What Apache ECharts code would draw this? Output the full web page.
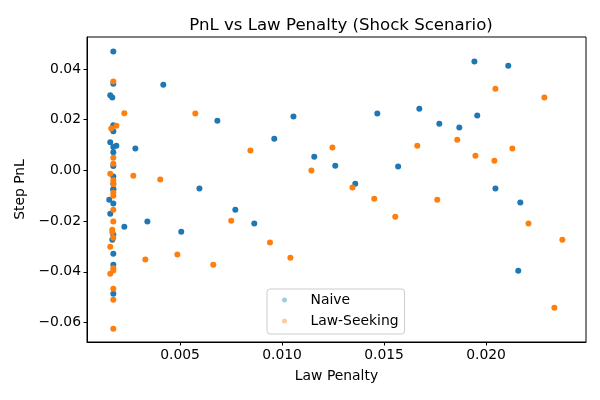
<!DOCTYPE html>
<html><head><meta charset="utf-8">
<script src="https://cdn.jsdelivr.net/npm/echarts@6/dist/echarts.min.js"></script>
<style>html,body{margin:0;padding:0;background:#fff}#c{width:600px;height:400px}</style>
</head><body><div id="c"></div>
<script>
const seriesNames = ['Naive', 'Law-Seeking'];
const naiveX = [0.00173,0.00173,0.00158,0.00168,0.00173,0.00173,0.00158,0.00188,0.00173,0.00173,0.00173,0.00173,0.00173,0.00173,0.00173,0.00153,0.00173,0.00158,0.00173,0.00168,0.00173,0.00173,0.00173,
  0.00418,0.00281,0.00227,0.00340,0.00506,0.00683,0.01056,0.01467,0.00962,0.01158,0.01261,0.01569,0.00595,0.01359,0.00771,0.00864,0.01943,0.02109,0.01673,0.01957,0.01771,0.01869,0.02046,0.02168,0.02158];
const naiveY = [0.0469,0.0342,0.0296,0.0287,0.0178,0.0154,0.0111,0.0097,0.0092,0.0071,0.0017,-0.0024,-0.0053,-0.0074,-0.0076,-0.0116,-0.0131,-0.0171,-0.0254,-0.0274,-0.0329,-0.0372,-0.0487,
  0.0338,0.0086,-0.0222,-0.0202,-0.0242,0.0196,0.0212,0.0224,0.0125,0.0054,0.0018,0.0015,-0.0072,-0.0053,-0.0155,-0.0210,0.0429,0.0413,0.0243,0.0216,0.0184,0.0169,-0.0072,-0.0127,-0.0396];
const lawX = [0.00173,0.00188,0.00163,0.00173,0.00173,0.00158,0.00173,0.00173,0.00173,0.00173,0.00173,0.00173,0.00168,0.00168,0.00173,0.00158,0.00173,0.00173,0.00158,0.00173,0.00173,0.00173,
  0.00227,0.00271,0.00403,0.00330,0.00487,0.00575,0.00845,0.01247,0.01144,0.01345,0.01452,0.01555,0.00751,0.00941,0.01041,0.00663,0.02046,0.02286,0.01859,0.01663,0.02129,0.01948,0.02041,0.01761,0.02208,0.02374,0.02335];
const lawY = [0.0350,0.0176,0.0165,0.0050,0.0026,-0.0013,-0.0039,-0.0055,-0.0088,-0.0100,-0.0155,-0.0202,-0.0234,-0.0243,-0.0266,-0.0301,-0.0386,-0.0395,-0.0408,-0.0467,-0.0510,-0.0625,
  0.0225,-0.0021,-0.0036,-0.0352,-0.0332,0.0224,0.0078,0.0090,-0.0001,-0.0068,-0.0112,-0.0183,-0.0199,-0.0285,-0.0345,-0.0372,0.0322,0.0287,0.0121,0.0097,0.0086,0.0058,0.0038,-0.0116,-0.0210,-0.0274,-0.0542];
const xTicks = [0.005, 0.010, 0.015, 0.020];
const yTicks = [-0.06, -0.04, -0.02, 0.00, 0.02, 0.04];

const zip = (a, b) => a.map((v, i) => [v, b[i]]);
const font = 'DejaVu Sans';
const chart = echarts.init(document.getElementById('c'), null, {renderer: 'canvas'});
chart.setOption({
  animation: false,
  backgroundColor: '#fff',
  title: {text: 'PnL vs Law Penalty (Shock Scenario)', left: 336, top: 12, textAlign: 'center',
    textStyle: {fontFamily: font, fontSize: 16.6, fontWeight: 'normal', color: '#000'}},
  grid: {left: 87, right: 14, top: 37, bottom: 58, show: true, borderColor: '#000', borderWidth: 1, backgroundColor: 'transparent'},
  xAxis: {type: 'value', min: 0.00044, max: 0.0249,
    name: 'Law Penalty', nameLocation: 'middle', nameGap: 27,
    nameTextStyle: {fontFamily: font, fontSize: 13.9, color: '#000'},
    axisLine: {show: true, onZero: false, lineStyle: {color: '#000', width: 1}},
    axisTick: {show: true, length: 3.5, customValues: xTicks, lineStyle: {color: '#000'}},
    axisLabel: {customValues: xTicks, margin: 6, fontFamily: font, fontSize: 13.9, color: '#000', formatter: v => v.toFixed(3)},
    splitLine: {show: false}},
  yAxis: {type: 'value', min: -0.0677, max: 0.0526,
    name: 'Step PnL', nameLocation: 'middle', nameGap: 58,
    nameTextStyle: {fontFamily: font, fontSize: 13.9, color: '#000'},
    axisLine: {show: true, onZero: false, lineStyle: {color: '#000', width: 1}},
    axisTick: {show: true, length: 3.5, customValues: yTicks, lineStyle: {color: '#000'}},
    axisLabel: {customValues: yTicks, margin: 6, fontFamily: font, fontSize: 13.9, color: '#000',
      formatter: v => (v < 0 ? '\u2212' : '') + Math.abs(v).toFixed(2)},
    splitLine: {show: false}},
  legend: {orient: 'vertical', left: 267, top: 289, padding: [3, 6, 5, 15],
    icon: 'circle', itemWidth: 8, itemHeight: 5, itemGap: 5,
    borderColor: '#cccccc', borderWidth: 1, borderRadius: 3, backgroundColor: 'rgba(255,255,255,0.8)',
    textStyle: {fontFamily: font, fontSize: 13.9, color: '#000', lineHeight: 16, padding: [0, 0, 0, 17]},
    data: [{name: seriesNames[0], itemStyle: {opacity: 0.4}}, {name: seriesNames[1], itemStyle: {opacity: 0.4}}]},
  series: [
    {name: seriesNames[0], type: 'scatter', symbolSize: 6, itemStyle: {color: '#1f77b4', opacity: 1}, data: zip(naiveX, naiveY)},
    {name: seriesNames[1], type: 'scatter', symbolSize: 6, itemStyle: {color: '#ff7f0e', opacity: 1}, data: zip(lawX, lawY)}
  ]
});
</script></body></html>
